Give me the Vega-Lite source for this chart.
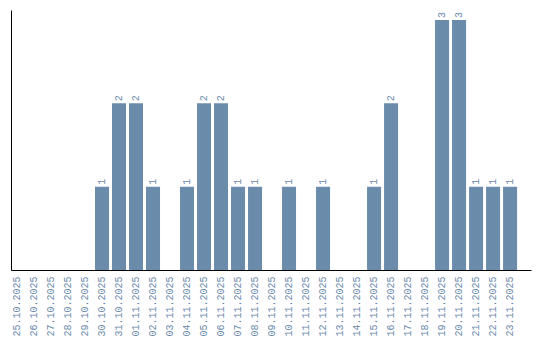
{
  "$schema": "https://vega.github.io/schema/vega-lite/v6.json",
  "width": 520,
  "height": 260,
  "autosize": {"type": "none"},
  "padding": {"left": 11, "top": 10, "right": 9, "bottom": 70},
  "background": "white",
  "config": {"view": {"stroke": null}, "font": "Liberation Mono"},
  "data": {"values": [
    {"date": "25.10.2025", "count": 0},
    {"date": "26.10.2025", "count": 0},
    {"date": "27.10.2025", "count": 0},
    {"date": "28.10.2025", "count": 0},
    {"date": "29.10.2025", "count": 0},
    {"date": "30.10.2025", "count": 1},
    {"date": "31.10.2025", "count": 2},
    {"date": "01.11.2025", "count": 2},
    {"date": "02.11.2025", "count": 1},
    {"date": "03.11.2025", "count": 0},
    {"date": "04.11.2025", "count": 1},
    {"date": "05.11.2025", "count": 2},
    {"date": "06.11.2025", "count": 2},
    {"date": "07.11.2025", "count": 1},
    {"date": "08.11.2025", "count": 1},
    {"date": "09.11.2025", "count": 0},
    {"date": "10.11.2025", "count": 1},
    {"date": "11.11.2025", "count": 0},
    {"date": "12.11.2025", "count": 1},
    {"date": "13.11.2025", "count": 0},
    {"date": "14.11.2025", "count": 0},
    {"date": "15.11.2025", "count": 1},
    {"date": "16.11.2025", "count": 2},
    {"date": "17.11.2025", "count": 0},
    {"date": "18.11.2025", "count": 0},
    {"date": "19.11.2025", "count": 3},
    {"date": "20.11.2025", "count": 3},
    {"date": "21.11.2025", "count": 1},
    {"date": "22.11.2025", "count": 1},
    {"date": "23.11.2025", "count": 1}
  ]},
  "encoding": {
    "x": {
      "field": "date", "type": "ordinal", "sort": null,
      "scale": {"paddingInner": 0.176, "paddingOuter": 0.38, "align": 0},
      "axis": {"title": null, "labelAngle": -90, "ticks": false, "labelPadding": 6, "labelOffset": -1,
               "domainColor": "#000000", "labelColor": "#6a8aab", "labelFontSize": 10, "labelFont": "Liberation Mono"}
    },
    "y": {
      "field": "count", "type": "quantitative",
      "scale": {"domain": [0, 3.12], "nice": false},
      "axis": {"title": null, "labels": false, "ticks": false, "grid": false, "domainColor": "#000000"}
    }
  },
  "layer": [
    {"mark": {"type": "bar", "color": "#6b8bab", "xOffset": -1}},
    {
      "transform": [{"filter": "datum.count > 0"}],
      "mark": {"type": "text", "angle": -90, "align": "left", "baseline": "middle", "dx": 2, "xOffset": -1, "fontSize": 10, "color": "#6a8aab", "font": "Liberation Mono"},
      "encoding": {"text": {"field": "count", "type": "quantitative"}}
    }
  ]
}
